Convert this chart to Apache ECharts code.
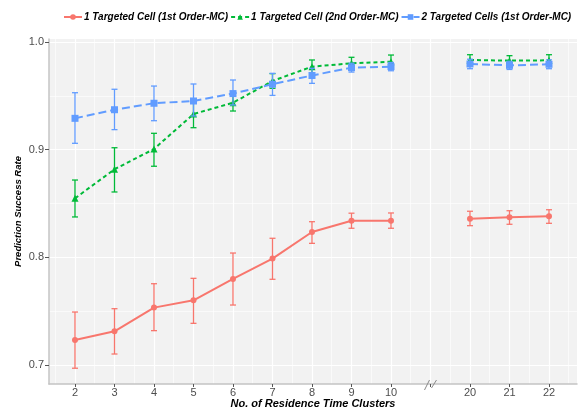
<!DOCTYPE html>
<html>
<head>
<meta charset="utf-8">
<script src="https://cdn.jsdelivr.net/npm/echarts@6/dist/echarts.min.js"></script>
<style>
html,body{margin:0;padding:0;background:#fff;}
#c{width:579px;height:411px;}
</style>
</head>
<body>
<div id="c"></div>
<script>
// x slots: 2..10, break, 20, 21, 22 (slot position = index + 2)
const xLabels = ['2','3','4','5','6','7','8','9','10','','20','21','22'];
const yTicks = [0.7, 0.8, 0.9, 1.0];
const seriesNames = ['1 Targeted Cell (1st Order-MC)', '1 Targeted Cell (2nd Order-MC)', '2 Targeted Cells (1st Order-MC)'];

const redMean = [0.7232,0.7313,0.7533,0.7601,0.7799,0.7988,0.8235,0.8340,0.8340,null,0.8359,0.8372,0.8381];
const redLo   = [0.6970,0.7102,0.7319,0.7387,0.7557,0.7796,0.8130,0.8270,0.8270,null,0.8294,0.8307,0.8316];
const redHi   = [0.7492,0.7523,0.7755,0.7805,0.8040,0.8177,0.8331,0.8410,0.8412,null,0.8428,0.8433,0.8442];

const greenMean = [0.8548,0.8818,0.9006,0.9331,0.9436,0.9638,0.9771,0.9802,0.9817,null,0.9833,0.9827,0.9830];
const greenLo   = [0.8375,0.8607,0.8846,0.9204,0.9359,0.9570,0.9710,0.9746,0.9755,null,0.9780,0.9781,0.9778];
const greenHi   = [0.8718,0.9018,0.9152,0.9458,0.9510,0.9706,0.9833,0.9858,0.9879,null,0.9882,0.9873,0.9882];

const blueMean = [0.9291,0.9371,0.9431,0.9452,0.9521,0.9608,0.9689,0.9762,0.9771,null,0.9796,0.9783,0.9793];
const blueLo   = [0.9059,0.9186,0.9269,0.9313,0.9415,0.9504,0.9616,0.9721,0.9733,null,0.9752,0.9745,0.9752];
const blueHi   = [0.9529,0.9561,0.9591,0.9610,0.9647,0.9709,0.9756,0.9803,0.9810,null,0.9840,0.9821,0.9834];

const colors = ['#F8766D', '#00BA38', '#619CFF'];
const FONT = '"Liberation Sans", Arial, sans-serif';

const slotPos = xLabels.map((_, i) => i + 2);
const breakPos = slotPos[xLabels.indexOf('')];

function lineData(mean) {
  return mean.map((v, i) => [slotPos[i], v]);
}
function errData(lo, hi) {
  const out = [];
  lo.forEach((v, i) => { if (v != null) out.push([slotPos[i], v, hi[i]]); });
  return out;
}
function renderErr(color) {
  return function (params, api) {
    const x = api.value(0);
    const pLo = api.coord([x, api.value(1)]);
    const pHi = api.coord([x, api.value(2)]);
    const w = 3;
    const st = { stroke: color, lineWidth: 1.3 };
    return {
      type: 'group',
      children: [
        { type: 'line', shape: { x1: pHi[0], y1: pHi[1], x2: pLo[0], y2: pLo[1] }, style: st },
        { type: 'line', shape: { x1: pHi[0] - w, y1: pHi[1], x2: pHi[0] + w, y2: pHi[1] }, style: st },
        { type: 'line', shape: { x1: pLo[0] - w, y1: pLo[1], x2: pLo[0] + w, y2: pLo[1] }, style: st }
      ]
    };
  };
}

const groups = [
  { mean: redMean, lo: redLo, hi: redHi, symbol: 'circle', size: 6, dash: 'solid' },
  { mean: greenMean, lo: greenLo, hi: greenHi, symbol: 'triangle', size: 7, dash: [4, 3] },
  { mean: blueMean, lo: blueLo, hi: blueHi, symbol: 'rect', size: 7, dash: [8, 4] }
];

const series = [];
groups.forEach((g, k) => {
  series.push({
    name: 'err' + k,
    type: 'custom',
    renderItem: renderErr(colors[k]),
    data: errData(g.lo, g.hi),
    encode: { x: 0, y: [1, 2] },
    z: 2 + k * 2,
    silent: true
  });
  series.push({
    name: seriesNames[k],
    type: 'line',
    data: lineData(g.mean),
    connectNulls: false,
    symbol: g.symbol,
    symbolSize: g.size,
    showSymbol: true,
    lineStyle: { color: colors[k], width: 2, type: g.dash },
    itemStyle: { color: colors[k] },
    z: 3 + k * 2,
    animation: false
  });
});

const xMin = 1.342, xMax = 14.709;
const yMin = 0.68235, yMax = 1.00279;

const chart = echarts.init(document.getElementById('c'), null, { renderer: 'canvas' });
chart.setOption({
  animation: false,
  backgroundColor: '#ffffff',
  color: colors,
  legend: {
    data: seriesNames,
    top: 7,
    left: 58,
    itemGap: 2,
    itemWidth: 18,
    itemHeight: 7,
    textStyle: { fontFamily: FONT, fontSize: 10, fontWeight: 'bold', fontStyle: 'italic', color: '#000', padding: [0, 0, 0, -3] }
  },
  grid: {
    left: 49, right: 2, top: 39, bottom: 27,
    outerBoundsMode: 'none',
    containLabel: false,
    show: true, backgroundColor: '#f2f2f2', borderWidth: 0
  },
  xAxis: {
    type: 'value',
    min: xMin, max: xMax,
    splitNumber: 13, minInterval: 1, maxInterval: 1,
    name: 'No. of Residence Time Clusters',
    nameLocation: 'middle',
    nameGap: 14,
    nameMoveOverlap: false,
    nameTextStyle: { fontFamily: FONT, fontSize: 11, fontWeight: 'bold', fontStyle: 'italic', color: '#000' },
    axisLine: { show: true, lineStyle: { color: '#c4c4c4', width: 1.5 } },
    axisTick: { show: true, length: 3, lineStyle: { color: '#555' }, customValues: slotPos },
    axisLabel: {
      customValues: slotPos,
      margin: 3,
      fontFamily: FONT, fontSize: 11, color: '#4d4d4d',
      formatter: function (v) {
        const i = Math.round(v) - 2;
        if (Math.abs(v - Math.round(v)) > 1e-6 || i < 0 || i >= xLabels.length) return '';
        return xLabels[i];
      }
    },
    splitLine: { show: true, lineStyle: { color: '#ffffff', width: 1.2 } },
    minorTick: { show: false, splitNumber: 2 },
    minorSplitLine: { show: true, lineStyle: { color: '#ffffff', width: 0.6 } }
  },
  yAxis: {
    type: 'value',
    min: yMin, max: yMax,
    splitNumber: 3, minInterval: 0.1, maxInterval: 0.1,
    name: 'Prediction Success Rate',
    nameLocation: 'middle',
    nameGap: 26,
    nameMoveOverlap: false,
    nameTextStyle: { fontFamily: FONT, fontSize: 9.5, fontWeight: 'bold', fontStyle: 'italic', color: '#000' },
    axisLine: { show: true, lineStyle: { color: '#c4c4c4', width: 1.5 } },
    axisTick: { show: true, length: 4, lineStyle: { color: '#555' }, customValues: yTicks },
    axisLabel: {
      customValues: yTicks,
      margin: 5,
      fontFamily: FONT, fontSize: 11, color: '#4d4d4d',
      formatter: function (v) {
        if (Math.abs(v * 10 - Math.round(v * 10)) > 1e-6) return '';
        return v.toFixed(1);
      }
    },
    splitLine: { show: true, lineStyle: { color: '#ffffff', width: 1.2 } },
    minorTick: { show: false, splitNumber: 2 },
    minorSplitLine: { show: true, lineStyle: { color: '#ffffff', width: 0.6 } }
  },
  series: series
});

// axis-break mark "//" placed at the empty slot through the x scale
const bp = chart.convertToPixel({ xAxisIndex: 0, yAxisIndex: 0 }, [breakPos, yMin]);
const brkStyle = { stroke: '#8a8a8a', lineWidth: 1 };
chart.setOption({
  graphic: [
    { type: 'line', z: 100, shape: { x1: bp[0] - 6, y1: bp[1] + 6, x2: bp[0] - 1, y2: bp[1] - 4 }, style: brkStyle },
    { type: 'line', z: 100, shape: { x1: bp[0] + 1, y1: bp[1] + 4, x2: bp[0] + 6, y2: bp[1] - 4 }, style: brkStyle }
  ]
});
</script>
</body>
</html>
